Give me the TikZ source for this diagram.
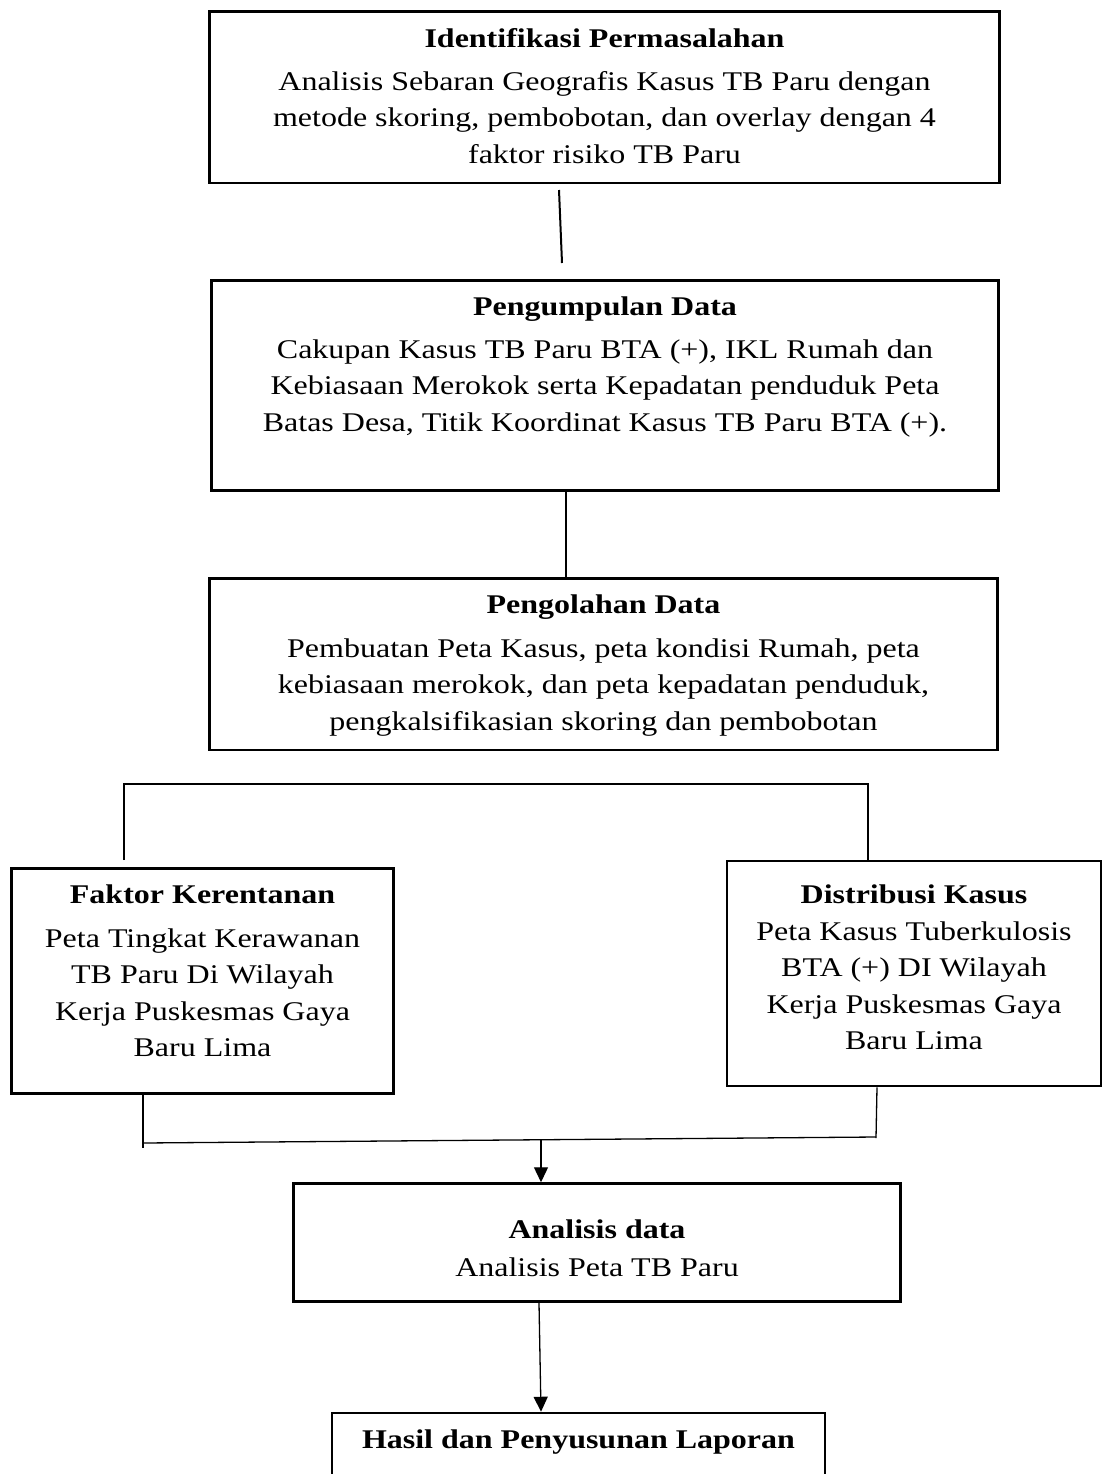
\documentclass[tikz,border=0pt]{standalone}
\usepackage{fontspec}
\setmainfont{Liberation Serif}[FakeStretch=1.185]
\usetikzlibrary{arrows.meta}
\tikzset{
  box/.style={draw, line width=2.5pt, inner sep=0pt, rectangle},
  txt/.style={anchor=north, inner sep=0pt, align=center, font=\fontsize{27}{36.5}\selectfont},
  thickline/.style={line width=2pt},
  thinline/.style={line width=1.3pt},
  arr/.style={line width=1.3pt, -{Triangle[width=14pt,length=15pt]}}
}
\newcommand{\tstrut}{\rule{0pt}{20pt}}
\begin{document}
\begin{tikzpicture}[x=1pt,y=-1pt]
\clip (0,0) rectangle (1105,1474);
\fill[white] (0,0) rectangle (1105,1474);
% boxes
\node[box, minimum width=790pt, minimum height=171.5pt] (b1) at (604.5,97.25) {};
\node[box, minimum width=787pt, minimum height=210pt] (b2) at (605,385.5) {};
\node[box, minimum width=788pt, minimum height=171.5pt] (b3) at (603.5,664.25) {};
\node[box, minimum width=382pt, minimum height=225pt] (b4) at (202.5,981) {};
\node[box, minimum width=374pt, minimum height=225pt] (b5) at (914,973.5) {};
\node[box, minimum width=607pt, minimum height=118pt] (b6) at (597,1242.5) {};
\node[box, minimum width=493pt, minimum height=100pt] (b7) at (578.5,1463) {};
% texts
\node[txt] (t1) at (604.5,27) {\tstrut\textbf{Identifikasi Permasalahan}\\[6.5pt]
  Analisis Sebaran Geografis Kasus TB Paru dengan\\
  metode skoring, pembobotan, dan overlay dengan 4\\
  faktor risiko TB Paru};
\node[txt] (t2) at (605,295) {\tstrut\textbf{Pengumpulan Data}\\[6.5pt]
  Cakupan Kasus TB Paru BTA (+), IKL Rumah dan\\
  Kebiasaan Merokok serta Kepadatan penduduk Peta\\
  Batas Desa, Titik Koordinat Kasus TB Paru BTA (+).};
\node[txt] (t3) at (603.5,593) {\tstrut\textbf{Pengolahan Data}\\[7.5pt]
  Pembuatan Peta Kasus, peta kondisi Rumah, peta\\
  kebiasaan merokok, dan peta kepadatan penduduk,\\
  pengkalsifikasian skoring dan pembobotan};
\node[txt] (t4) at (202.5,883) {\tstrut\textbf{Faktor Kerentanan}\\[7.5pt]
  Peta Tingkat Kerawanan\\
  TB Paru Di Wilayah\\
  Kerja Puskesmas Gaya\\
  Baru Lima};
\node[txt] (t5) at (914,883) {\tstrut\textbf{Distribusi Kasus}\\[0.5pt]
  Peta Kasus Tuberkulosis\\
  BTA (+) DI Wilayah\\
  Kerja Puskesmas Gaya\\
  Baru Lima};
\node[txt] (t6) at (597,1218) {\tstrut\textbf{Analisis data}\\[1.5pt]
  Analisis Peta TB Paru};
\node[txt] (t7) at (578.5,1428) {\tstrut\textbf{Hasil dan Penyusunan Laporan}};
% connector 1 (free floating)
\coordinate (c1a) at (559,190);
\coordinate (c1b) at (562,263);
\draw[thickline] (c1a) -- (c1b);
% connector 2
\coordinate (c2x) at (566,0);
\draw[thickline] (b2.south -| c2x) -- (b3.north -| c2x);
% branch
\coordinate (bl) at (124,860);
\coordinate (blt) at (124,784);
\coordinate (brt) at (868,784);
\coordinate (brx) at (868,0);
\draw[thinline] (bl) -- (blt) -- (brt) -- (b5.north -| brx);
% merge
\coordinate (mlx) at (143,0);
\coordinate (ml) at (143,1148);
\coordinate (mlh) at (143,1143);
\coordinate (mrx) at (877,0);
\coordinate (mr) at (876,1138);
\coordinate (mrh) at (876,1137);
\coordinate (ma) at (541,1140);
\draw[thinline] (b4.south -| mlx) -- (ml);
\draw[thinline] (b5.south -| mrx) -- (mr);
\draw[thinline] (mlh) -- (mrh);
\draw[arr] (ma) -- (b6.north -| ma);
% final arrow
\coordinate (fa) at (539,0);
\coordinate (fb) at (541,0);
\draw[arr] (b6.south -| fa) -- (b7.north -| fb);
\end{tikzpicture}
\end{document}
